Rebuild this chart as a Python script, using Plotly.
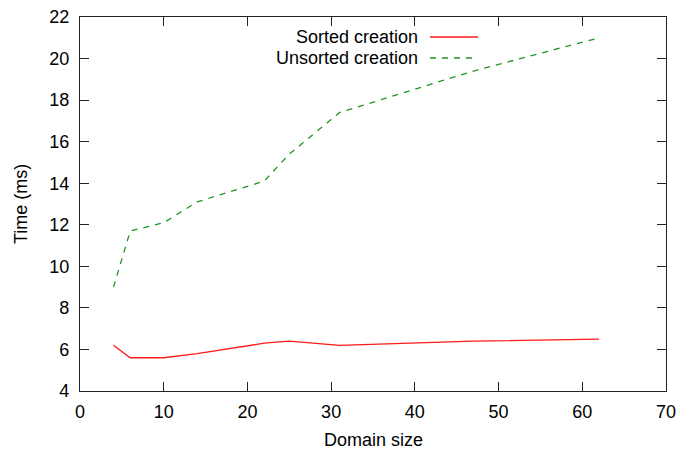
import plotly.graph_objects as go

domain_size = [4, 6, 10, 14, 22, 25, 31, 47, 62]
sorted_creation = [6.2, 5.6, 5.6, 5.8, 6.3, 6.4, 6.2, 6.4, 6.5]
unsorted_creation = [9.0, 11.7, 12.1, 13.1, 14.1, 15.4, 17.4, 19.4, 21.0]

series_names = ["Sorted creation", "Unsorted creation"]
x_ticks = [0, 10, 20, 30, 40, 50, 60, 70]
y_ticks = [4, 6, 8, 10, 12, 14, 16, 18, 20, 22]

red = "#ff1a1a"
green = "#1f951f"
font = "Liberation Sans, Arial, Helvetica, sans-serif"
fs = 18

W, H = 678, 456
L, R, T, B = 80, 12, 17, 65
pw, ph = W - L - R, H - T - B


def px_x(x):  # window pixel -> paper x
    return (x - L) / pw


def px_y(y):  # window pixel -> paper y
    return 1 - (y - T) / ph


fig = go.Figure()
fig.add_trace(go.Scatter(x=domain_size, y=sorted_creation, mode="lines",
                         name=series_names[0], line=dict(color=red, width=1.3)))
fig.add_trace(go.Scatter(x=domain_size, y=unsorted_creation, mode="lines",
                         name=series_names[1],
                         line=dict(color=green, width=1.3, dash="6px,6px")))

axis_common = dict(showline=True, linecolor="#222", linewidth=1.2, mirror="ticks",
                   ticks="inside", ticklen=9, tickwidth=1.2, tickcolor="#222",
                   showgrid=False, zeroline=False, automargin=False,
                   ticklabeloverflow="allow",
                   tickfont=dict(family=font, size=fs, color="black"))

fig.update_layout(
    width=W, height=H,
    margin=dict(l=L, r=R, t=T, b=B),
    paper_bgcolor="white", plot_bgcolor="white",
    showlegend=False,
    font=dict(family=font, size=fs, color="black"),
    xaxis=dict(range=[0, 70], tickvals=x_ticks, ticklabelstandoff=4, **axis_common),
    yaxis=dict(range=[4, 22], tickvals=y_ticks, ticklabelstandoff=6, **axis_common),
)

# axis titles
fig.add_annotation(xref="paper", yref="paper", x=0.5, y=px_y(440),
                   text="Domain size", showarrow=False, xanchor="center", yanchor="middle",
                   font=dict(family=font, size=fs, color="black"))
fig.add_annotation(xref="paper", yref="paper", x=px_x(21), y=0.5,
                   text="Time (ms)", showarrow=False, textangle=-90,
                   xanchor="center", yanchor="middle",
                   font=dict(family=font, size=fs, color="black"))

# gnuplot-style legend: right-aligned text followed by line sample
legend_rows = [(series_names[0], red, "solid", 37), (series_names[1], green, "6px,6px", 58)]
for name, color, dash, ypix in legend_rows:
    yp = px_y(ypix)
    fig.add_annotation(xref="paper", yref="paper", x=px_x(420), y=yp,
                       text=name, showarrow=False, xanchor="right", yanchor="middle",
                       font=dict(family=font, size=fs, color="black"))
    fig.add_shape(type="line", xref="paper", yref="paper",
                  x0=px_x(430), x1=px_x(478), y0=yp, y1=yp,
                  line=dict(color=color, width=1.3, dash=dash))

fig.write_html("out.html", config={"displayModeBar": False},
               post_script="document.body.style.margin='0';document.body.style.overflow='hidden';")
